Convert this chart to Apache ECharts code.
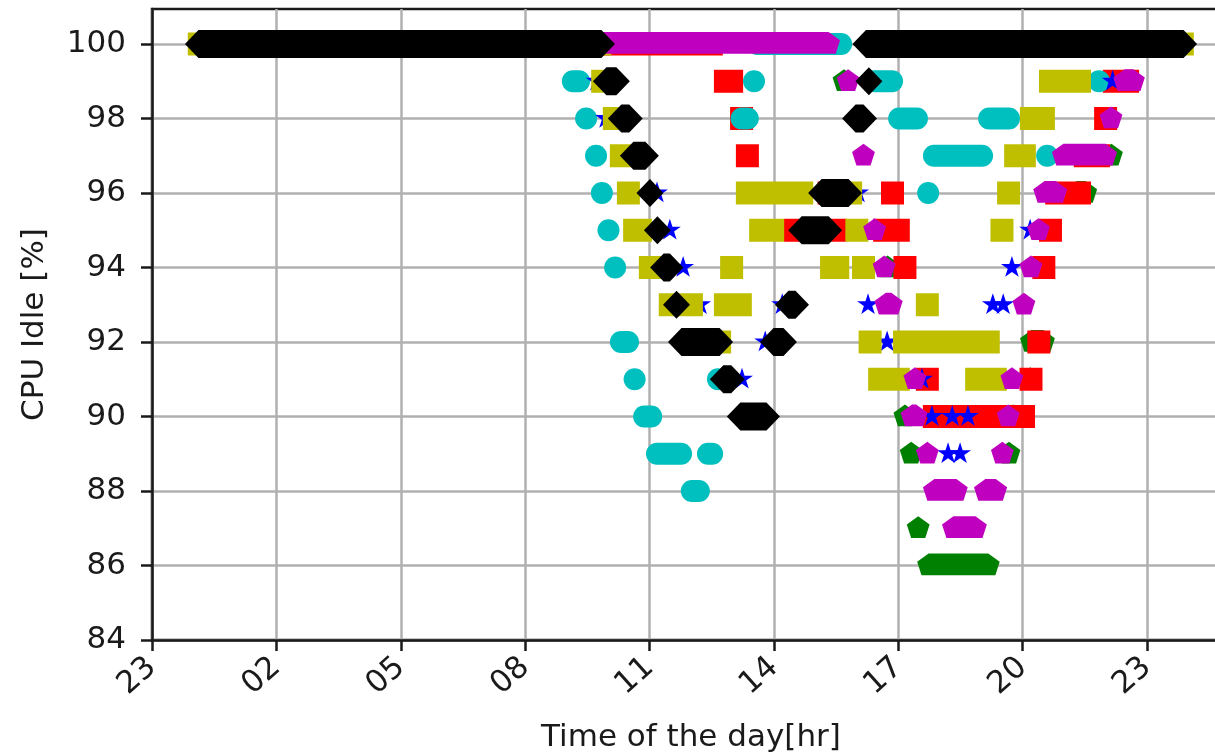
<!DOCTYPE html>
<html>
<head>
<meta charset="utf-8">
<script src="https://cdn.jsdelivr.net/npm/echarts@6/dist/echarts.min.js"></script>
<style>
  html, body { margin: 0; padding: 0; background: #ffffff; }
  #chart { width: 1215px; height: 755px; }
</style>
</head>
<body>
<div id="chart"></div>
<script>
// CPU idle samples, one colour per day. Each run is a stretch of
// consecutive samples at the same idle level: [first hour, last hour, idle %].
const greenRuns = [
  [15.69, 15.69, 99], [22.14, 22.14, 97], [21.30, 21.52, 96], [16.74, 16.74, 94],
  [20.21, 20.50, 92], [20.18, 20.18, 91], [17.16, 17.16, 90], [19.77, 19.77, 90],
  [17.31, 17.31, 89], [19.67, 19.67, 89], [17.48, 17.48, 87], [17.73, 19.17, 86]
];
const redRuns = [
  [9.90, 12.49, 100], [12.83, 12.98, 99], [22.21, 22.53, 99], [13.22, 13.22, 98],
  [22.00, 22.00, 98], [13.36, 13.36, 97], [21.51, 21.83, 97], [15.33, 15.33, 96],
  [16.86, 16.86, 96], [20.82, 21.37, 96], [14.52, 14.52, 95], [15.48, 15.48, 95],
  [16.67, 17.00, 95], [20.67, 20.67, 95], [17.16, 17.16, 94], [20.51, 20.51, 94],
  [20.39, 20.39, 92], [17.70, 17.70, 91], [20.20, 20.20, 91], [17.87, 20.02, 90]
];
const cyanRuns = [
  [9.15, 9.30, 99], [9.47, 9.47, 98], [9.71, 9.71, 97], [9.85, 9.85, 96],
  [10.01, 10.01, 95], [10.17, 10.17, 94], [10.31, 10.48, 92], [10.64, 10.64, 91],
  [10.87, 11.04, 90], [11.18, 11.76, 89], [12.02, 12.19, 88], [12.41, 12.51, 89],
  [12.65, 12.65, 91], [13.22, 13.37, 98], [13.52, 13.52, 99], [13.60, 15.62, 100],
  [16.42, 16.85, 99], [17.02, 17.45, 98], [17.72, 17.72, 96], [17.86, 19.02, 97],
  [19.19, 19.67, 98], [20.59, 20.59, 97], [21.84, 21.84, 99]
];
const blueRuns = [
  [9.73, 9.73, 99], [9.95, 9.95, 98], [11.18, 11.18, 96], [11.49, 11.49, 95],
  [11.81, 11.81, 94], [12.22, 12.22, 93], [13.23, 13.23, 91], [13.79, 13.79, 92],
  [14.20, 14.20, 93], [16.03, 16.03, 96], [16.27, 16.27, 93], [16.73, 16.73, 92],
  [17.57, 17.57, 91], [17.81, 17.81, 90], [18.30, 18.68, 90], [18.20, 18.49, 89],
  [19.28, 19.53, 93], [19.74, 19.74, 94], [20.18, 20.18, 95], [22.17, 22.17, 99]
];
const yellowRuns = [
  [0.14, 9.80, 100], [21.40, 23.85, 100], [9.87, 9.87, 99], [20.67, 21.37, 99],
  [10.15, 10.15, 98], [20.21, 20.50, 98], [10.32, 10.32, 97], [19.83, 20.04, 97],
  [10.49, 10.49, 96], [13.36, 14.67, 96], [15.85, 15.85, 96], [19.66, 19.66, 96],
  [10.64, 10.78, 95], [13.68, 13.97, 95], [16.00, 16.00, 95], [19.50, 19.50, 95],
  [11.02, 11.02, 94], [12.98, 12.98, 94], [15.39, 15.54, 94], [16.16, 16.16, 94],
  [11.50, 12.01, 93], [12.83, 13.19, 93], [17.70, 17.70, 93], [12.69, 12.69, 92],
  [16.32, 16.32, 92], [17.15, 19.17, 92], [16.55, 17.00, 91], [18.89, 19.34, 91]
];
const magentaRuns = [
  [9.90, 15.32, 100], [15.79, 15.79, 99], [22.46, 22.67, 99], [22.13, 22.13, 98],
  [16.16, 16.16, 97], [20.98, 22.00, 97], [20.53, 20.80, 96], [16.43, 16.43, 95],
  [20.38, 20.38, 95], [16.66, 16.66, 94], [20.20, 20.20, 94], [16.70, 16.83, 93],
  [20.03, 20.03, 93], [17.40, 17.40, 91], [19.74, 19.74, 91], [17.33, 17.43, 90],
  [19.65, 19.65, 90], [17.70, 17.70, 89], [19.51, 19.51, 89], [17.87, 18.40, 88],
  [19.10, 19.35, 88], [18.33, 18.86, 87]
];
const blackRuns = [
  [0.12, 9.84, 100], [16.22, 23.88, 100], [9.96, 10.20, 99], [16.29, 16.29, 99],
  [10.32, 10.51, 98], [15.97, 16.16, 98], [10.61, 10.90, 97], [11.01, 11.01, 96],
  [15.15, 15.80, 96], [11.19, 11.19, 95], [14.67, 15.32, 95], [11.34, 11.49, 94],
  [11.65, 11.65, 93], [14.35, 14.52, 93], [11.77, 12.69, 92], [13.99, 14.23, 92],
  [12.78, 12.97, 91], [13.19, 13.82, 90]
];

// Axis ticks: every 3 hours starting from 23:00 of the previous day.
const timeTickLabels = ['23', '02', '05', '08', '11', '14', '17', '20', '23'];
const idleTicks = [84, 86, 88, 90, 92, 94, 96, 98, 100];

const AXIS_START_HOUR = 23 - 24;   // x axis begins at 23:00 the day before
const toAxis = runs => runs.map(r => [r[0] - AXIS_START_HOUR, r[1] - AXIS_START_HOUR, r[2]]);
const timeTickValues = timeTickLabels.map((_, i) => i * 3);

// Outline of a row of overlapping markers between two sample centres.
function markerRun(kind, x0, x1, y, fill) {
  const style = { fill: fill };
  if (kind === 'square') {
    const h = 11.5;
    return { type: 'rect', shape: { x: x0 - h, y: y - h, width: x1 - x0 + 2 * h, height: 2 * h }, style };
  }
  if (kind === 'circle') {
    const h = 11;
    return { type: 'rect', shape: { x: x0 - h, y: y - h, width: x1 - x0 + 2 * h, height: 2 * h, r: h }, style };
  }
  if (kind === 'diamond') {
    const hx = 13.5, hy = 14;
    return { type: 'polygon', shape: { points: [
      [x0 - hx, y], [x0, y - hy], [x1, y - hy], [x1 + hx, y], [x1, y + hy], [x0, y + hy]
    ] }, style };
  }
  if (kind === 'pentagon') {
    const R = 12;
    return { type: 'polygon', shape: { points: [
      [x0 - 0.951 * R, y - 0.309 * R], [x0, y - R], [x1, y - R],
      [x1 + 0.951 * R, y - 0.309 * R], [x1 + 0.588 * R, y + 0.809 * R],
      [x0 - 0.588 * R, y + 0.809 * R]
    ] }, style };
  }
  // five-pointed stars, one at each end of the run
  const R = 11.5, r = R * 0.382;
  const star = cx => {
    const pts = [];
    for (let k = 0; k < 10; k++) {
      const a = -Math.PI / 2 + k * Math.PI / 5;
      const rad = k % 2 === 0 ? R : r;
      pts.push([cx + rad * Math.cos(a), y + rad * Math.sin(a)]);
    }
    return { type: 'polygon', shape: { points: pts }, style };
  };
  const children = [star(x0)];
  if (x1 - x0 > 0.5) children.push(star(x1));
  return { type: 'group', children };
}

function runSeries(name, runs, kind, color) {
  return {
    name: name,
    type: 'custom',
    coordinateSystem: 'cartesian2d',
    silent: true,
    itemStyle: { color: color },
    encode: { x: [0, 1], y: 2 },
    data: toAxis(runs),
    renderItem: function (params, api) {
      const v = api.value(2);
      const p0 = api.coord([api.value(0), v]);
      const p1 = api.coord([api.value(1), v]);
      return markerRun(kind, p0[0], p1[0], p0[1], color);
    }
  };
}

const FONT = "'DejaVu Sans', 'Liberation Sans', sans-serif";
const INK = '#1a1a1a';

const chart = echarts.init(document.getElementById('chart'), null, { renderer: 'canvas' });
chart.setOption({
  animation: false,
  backgroundColor: '#ffffff',
  grid: {
    left: 152, top: 9, width: 1078, height: 631,
    containLabel: false,
    outerBoundsMode: 'none',
    show: true, borderColor: INK, borderWidth: 2.5, backgroundColor: 'transparent'
  },
  xAxis: {
    type: 'value',
    min: 0, max: 26, interval: 3,
    name: 'Time of the day[hr]',
    nameLocation: 'middle',
    nameGap: 82,
    nameTextStyle: { fontFamily: FONT, fontSize: 31, color: INK },
    axisLine: { show: true, onZero: false, lineStyle: { color: INK, width: 2.5 } },
    axisTick: { show: true, length: 11, customValues: timeTickValues, lineStyle: { color: INK, width: 2.5 } },
    axisLabel: {
      rotate: 42, margin: 23, customValues: timeTickValues,
      fontFamily: FONT, fontSize: 31, color: INK,
      formatter: v => (v % 3 === 0 && v / 3 < timeTickLabels.length) ? timeTickLabels[v / 3] : ''
    },
    splitLine: { show: true, lineStyle: { color: '#b0b0b0', width: 2.5 } }
  },
  yAxis: {
    type: 'value',
    min: 84, max: 100.94, interval: 2,
    name: 'CPU Idle [%]',
    nameLocation: 'middle',
    nameRotate: 90,
    nameGap: 102,
    nameTextStyle: { fontFamily: FONT, fontSize: 31, color: INK },
    axisLine: { show: true, lineStyle: { color: INK, width: 2.5 } },
    axisTick: { show: true, length: 11, customValues: idleTicks, lineStyle: { color: INK, width: 2.5 } },
    axisLabel: {
      margin: 26, customValues: idleTicks,
      fontFamily: FONT, fontSize: 31, color: INK,
      formatter: v => (idleTicks.indexOf(v) >= 0 ? String(v) : '')
    },
    splitLine: { show: true, lineStyle: { color: '#b0b0b0', width: 2.5 } }
  },
  series: [
    runSeries('green', greenRuns, 'pentagon', '#008000'),
    runSeries('red', redRuns, 'square', '#ff0000'),
    runSeries('cyan', cyanRuns, 'circle', '#00bfbf'),
    runSeries('blue', blueRuns, 'star', '#0000ff'),
    runSeries('yellow', yellowRuns, 'square', '#bfbf00'),
    runSeries('magenta', magentaRuns, 'pentagon', '#bf00bf'),
    runSeries('black', blackRuns, 'diamond', '#000000')
  ]
});
</script>
</body>
</html>
